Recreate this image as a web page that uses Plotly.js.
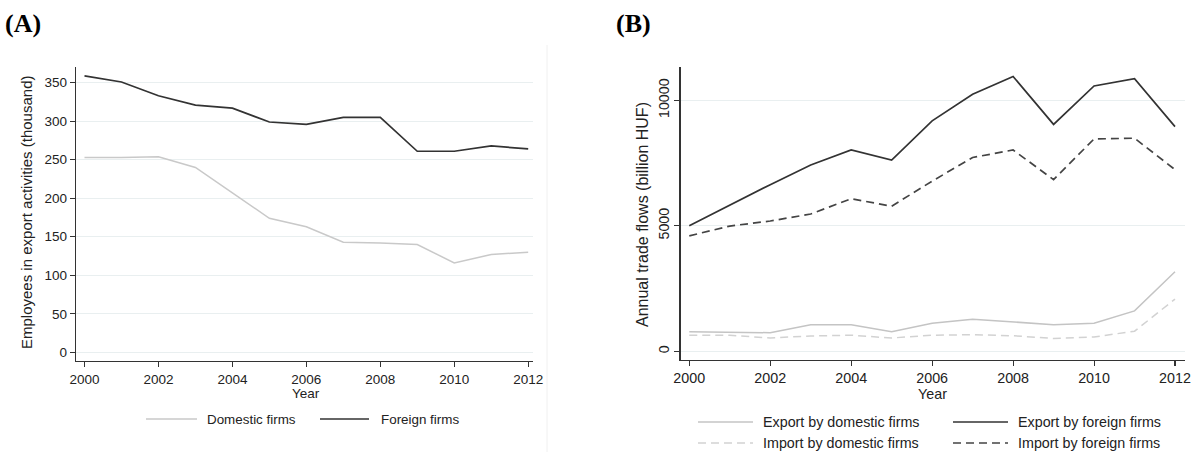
<!DOCTYPE html>
<html>
<head>
<meta charset="utf-8">
<script src="https://cdn.plot.ly/plotly-3.0.1.min.js"></script>
<style>
  html, body { margin: 0; padding: 0; background: #fff; }
  #chart { width: 1192px; height: 452px; }
</style>
</head>
<body>
<div id="chart"></div>
<script>
// Years shared by both panels
const years = [2000, 2001, 2002, 2003, 2004, 2005, 2006, 2007, 2008, 2009, 2010, 2011, 2012];

// Panel A: employees in export activities (thousand)
const employeesDomestic = [253, 253, 254, 240, 207, 174, 163, 143, 142, 140, 116, 127, 130];
const employeesForeign  = [359, 351, 333, 321, 317, 299, 296, 305, 305, 261, 261, 268, 264];

// Panel B: annual trade flows (billion HUF)
const exportDomestic = [780, 770, 740, 1060, 1060, 780, 1120, 1280, 1170, 1060, 1120, 1610, 3170];
const exportForeign  = [5000, 5830, 6640, 7420, 8020, 7620, 9180, 10240, 10950, 9040, 10570, 10860, 8950];
const importDomestic = [640, 640, 530, 610, 640, 530, 640, 660, 620, 510, 570, 800, 2080];
const importForeign  = [4600, 4990, 5190, 5470, 6080, 5780, 6780, 7720, 8020, 6840, 8460, 8490, 7240];

// Series labels
const namesA = ['Domestic firms', 'Foreign firms'];
const namesB = ['Export by domestic firms', 'Export by foreign firms',
                'Import by domestic firms', 'Import by foreign firms'];

const xTicks = [2000, 2002, 2004, 2006, 2008, 2010, 2012];
const yTicksA = [0, 50, 100, 150, 200, 250, 300, 350];
const yTicksB = [0, 5000, 10000];

const W = 1192, H = 452;
const px = x => x / W;           // pixel -> paper (horizontal)
const py = y => 1 - y / H;       // pixel -> paper (vertical)

const FONT = 'Liberation Sans, Arial, sans-serif';
const DARK = '#333333';
const LIGHT = '#c9c9c9';
const GRID = '#e9eff0';
const DASH = '8px,5px';

const styleA = [
  {color: LIGHT, width: 1.5, dash: 'solid'},
  {color: DARK,  width: 1.7, dash: 'solid'}
];
const styleB = [
  {color: '#c4c4c4', width: 1.5, dash: 'solid'},
  {color: DARK,      width: 1.7, dash: 'solid'},
  {color: '#d2d2d2', width: 1.5, dash: DASH},
  {color: '#444444', width: 1.7, dash: DASH}
];

const seriesA = [employeesDomestic, employeesForeign];
const seriesB = [exportDomestic, exportForeign, importDomestic, importForeign];

const traces = [];
seriesA.forEach((ys, i) => traces.push({
  x: years, y: ys, type: 'scatter', mode: 'lines', name: namesA[i],
  xaxis: 'x', yaxis: 'y', line: styleA[i], showlegend: false, hoverinfo: 'x+y+name'
}));
seriesB.forEach((ys, i) => traces.push({
  x: years, y: ys, type: 'scatter', mode: 'lines', name: namesB[i],
  xaxis: 'x2', yaxis: 'y2', line: styleB[i], showlegend: false, hoverinfo: 'x+y+name'
}));

function axisBase(size) {
  return {
    showline: true, linecolor: DARK, linewidth: 1.3,
    ticks: 'outside', ticklen: 5, tickwidth: 1.1, tickcolor: DARK,
    tickfont: {family: FONT, size: size, color: '#222'},
    zeroline: false, fixedrange: true, ticklabeloverflow: 'allow'
  };
}

const layout = {
  width: W, height: H,
  margin: {l: 0, r: 0, t: 0, b: 0},
  paper_bgcolor: '#fff', plot_bgcolor: '#fff',
  showlegend: false,
  xaxis: Object.assign(axisBase(13.5), {
    domain: [px(76), px(533)], range: [1999.77, 2012.13],
    tickmode: 'array', tickvals: xTicks, showgrid: false, anchor: 'y'
  }),
  yaxis: Object.assign(axisBase(13.5), {
    domain: [py(361), py(66.7)], range: [-11.3, 370.8],
    tickmode: 'array', tickvals: yTicksA, showgrid: true, gridcolor: GRID, gridwidth: 1,
    anchor: 'x'
  }),
  xaxis2: Object.assign(axisBase(14.3), {
    domain: [px(680.7), px(1185)], range: [1999.788, 2012.247],
    tickmode: 'array', tickvals: xTicks, showgrid: false, anchor: 'y2'
  }),
  yaxis2: Object.assign(axisBase(14.3), {
    domain: [py(360), py(67)], range: [-347, 11327],
    tickmode: 'array', tickvals: yTicksB, ticktext: yTicksB.map(String),
    showgrid: true, gridcolor: GRID, gridwidth: 1,
    tickangle: -90, anchor: 'x2'
  }),
  shapes: [],
  annotations: []
};

const ann = layout.annotations;
const shp = layout.shapes;

// Panel labels
ann.push({xref: 'paper', yref: 'paper', x: px(3), y: py(23), xanchor: 'left', yanchor: 'middle',
  text: '<b>(A)</b>', showarrow: false, font: {family: 'Liberation Serif, Times New Roman, serif', size: 26, color: '#000'}});
ann.push({xref: 'paper', yref: 'paper', x: px(614), y: py(23), xanchor: 'left', yanchor: 'middle',
  text: '<b>(B)</b>', showarrow: false, font: {family: 'Liberation Serif, Times New Roman, serif', size: 26, color: '#000'}});

// Axis titles
ann.push({xref: 'paper', yref: 'paper', x: px(26), y: py(213), xanchor: 'center', yanchor: 'middle',
  text: 'Employees in export activities (thousand)', textangle: -90, showarrow: false,
  font: {family: FONT, size: 15, color: '#222'}});
ann.push({xref: 'paper', yref: 'paper', x: px(306), y: py(393), xanchor: 'center', yanchor: 'middle',
  text: 'Year', showarrow: false, font: {family: FONT, size: 13.5, color: '#222'}});
ann.push({xref: 'paper', yref: 'paper', x: px(642), y: py(215), xanchor: 'center', yanchor: 'middle',
  text: 'Annual trade flows (billion HUF)', textangle: -90, showarrow: false,
  font: {family: FONT, size: 16, color: '#222'}});
ann.push({xref: 'paper', yref: 'paper', x: px(932), y: py(394), xanchor: 'center', yanchor: 'middle',
  text: 'Year', showarrow: false, font: {family: FONT, size: 14.3, color: '#222'}});

// Legend keys: [sampleStart, sampleEnd, textLeft, rowY]
function legendEntry(name, style, x0, x1, tx, y, size) {
  shp.push({type: 'line', xref: 'paper', yref: 'paper', x0: px(x0), x1: px(x1), y0: py(y), y1: py(y),
    line: {color: style.color, width: style.width, dash: style.dash}});
  ann.push({xref: 'paper', yref: 'paper', x: px(tx), y: py(y), xanchor: 'left', yanchor: 'middle',
    text: name, showarrow: false, font: {family: FONT, size: size, color: '#222'}});
}
const legendPosA = [[146, 197, 205, 419], [320, 369, 379, 419]];
namesA.forEach((n, i) => legendEntry(n, styleA[i], ...legendPosA[i], 13.4));
const legendPosB = [[698, 753, 761, 422], [953, 1008, 1016, 422],
                    [698, 753, 761, 443], [953, 1008, 1016, 443]];
namesB.forEach((n, i) => legendEntry(n, styleB[i], ...legendPosB[i], 14.3));

// Faint frame edge to the right of panel A
shp.push({type: 'line', xref: 'paper', yref: 'paper', x0: px(547), x1: px(547), y0: py(45), y1: py(452),
  line: {color: '#f0f0f0', width: 1}});

Plotly.newPlot('chart', traces, layout, {displayModeBar: false, staticPlot: true});
</script>
</body>
</html>
